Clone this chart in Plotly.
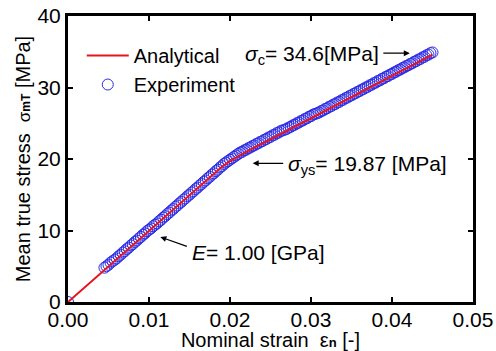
import plotly.graph_objects as go

# Analytical model curve (strain, MPa)
ana_strain = [0.0, 0.010, 0.018, 0.019, 0.020, 0.021, 0.022, 0.030, 0.040, 0.045]
ana_stress = [0.0, 10.0, 18.0, 18.9, 19.7, 20.4, 21.0, 25.7, 31.6, 34.6]

# Experimental points (strain, MPa)
exp_strain = [0.0,
    0.00450, 0.00475, 0.00500, 0.00525, 0.00550, 0.00575, 0.00600, 0.00625, 0.00650, 0.00675,
    0.00700, 0.00725, 0.00750, 0.00775, 0.00800, 0.00825, 0.00850, 0.00875, 0.00900, 0.00925,
    0.00950, 0.00975, 0.01000, 0.01025, 0.01050, 0.01075, 0.01100, 0.01125, 0.01150, 0.01175,
    0.01200, 0.01225, 0.01250, 0.01275, 0.01300, 0.01325, 0.01350, 0.01375, 0.01400, 0.01425,
    0.01450, 0.01475, 0.01500, 0.01525, 0.01550, 0.01575, 0.01600, 0.01625, 0.01650, 0.01675,
    0.01700, 0.01725, 0.01750, 0.01775, 0.01800, 0.01825, 0.01850, 0.01875, 0.01900, 0.01925,
    0.01950, 0.01975, 0.02000, 0.02025, 0.02050, 0.02075, 0.02100, 0.02125, 0.02150, 0.02175,
    0.02200, 0.02225, 0.02250, 0.02275, 0.02300, 0.02325, 0.02350, 0.02375, 0.02400, 0.02425,
    0.02450, 0.02475, 0.02500, 0.02525, 0.02550, 0.02575, 0.02600, 0.02625, 0.02650, 0.02675,
    0.02700, 0.02725, 0.02750, 0.02775, 0.02800, 0.02825, 0.02850, 0.02875, 0.02900, 0.02925,
    0.02950, 0.02975, 0.03000, 0.03025, 0.03050, 0.03075, 0.03100, 0.03125, 0.03150, 0.03175,
    0.03200, 0.03225, 0.03250, 0.03275, 0.03300, 0.03325, 0.03350, 0.03375, 0.03400, 0.03425,
    0.03450, 0.03475, 0.03500, 0.03525, 0.03550, 0.03575, 0.03600, 0.03625, 0.03650, 0.03675,
    0.03700, 0.03725, 0.03750, 0.03775, 0.03800, 0.03825, 0.03850, 0.03875, 0.03900, 0.03925,
    0.03950, 0.03975, 0.04000, 0.04025, 0.04050, 0.04075, 0.04100, 0.04125, 0.04150, 0.04175,
    0.04200, 0.04225, 0.04250, 0.04275, 0.04300, 0.04325, 0.04350, 0.04375, 0.04400, 0.04425,
    0.04450, 0.04475, 0.04500]
exp_stress = [0.0,
    4.8, 5.0, 5.2, 5.5, 5.7, 5.9, 6.1, 6.4, 6.6, 6.9,
    7.1, 7.4, 7.6, 7.9, 8.1, 8.4, 8.6, 8.9, 9.1, 9.4,
    9.6, 9.9, 10.1, 10.3, 10.6, 10.8, 11.0, 11.3, 11.5, 11.8,
    12.0, 12.3, 12.5, 12.8, 13.0, 13.3, 13.5, 13.8, 14.0, 14.3,
    14.5, 14.8, 15.0, 15.3, 15.5, 15.8, 16.0, 16.3, 16.5, 16.8,
    17.0, 17.3, 17.5, 17.8, 18.0, 18.3, 18.5, 18.8, 19.0, 19.3,
    19.5, 19.7, 19.9, 20.1, 20.3, 20.5, 20.7, 20.9, 21.0, 21.2,
    21.3, 21.5, 21.6, 21.8, 21.9, 22.1, 22.2, 22.4, 22.5, 22.7,
    22.8, 23.0, 23.1, 23.3, 23.4, 23.6, 23.7, 23.9, 24.0, 24.1,
    24.2, 24.4, 24.5, 24.7, 24.8, 25.0, 25.1, 25.3, 25.4, 25.6,
    25.7, 25.9, 26.0, 26.2, 26.3, 26.4, 26.5, 26.7, 26.8, 27.0,
    27.1, 27.3, 27.4, 27.6, 27.7, 27.9, 28.0, 28.2, 28.3, 28.5,
    28.6, 28.8, 28.9, 29.1, 29.2, 29.4, 29.5, 29.7, 29.8, 30.0,
    30.1, 30.3, 30.4, 30.6, 30.7, 30.9, 31.0, 31.2, 31.3, 31.5,
    31.6, 31.8, 31.9, 32.1, 32.2, 32.4, 32.5, 32.7, 32.8, 33.0,
    33.1, 33.3, 33.4, 33.6, 33.7, 33.9, 34.0, 34.2, 34.3, 34.5,
    34.6, 34.8, 34.9]

x_ticks = [0.00, 0.01, 0.02, 0.03, 0.04, 0.05]
x_tick_labels = ["0.00", "0.01", "0.02", "0.03", "0.04", "0.05"]
y_ticks = [0, 10, 20, 30, 40]
y_tick_labels = ["0", "10", "20", "30", "40"]

FONT = "Liberation Sans, Arial, sans-serif"

fig = go.Figure()
fig.add_trace(go.Scatter(
    x=exp_strain, y=exp_stress, mode="markers", name="Experiment",
    marker=dict(symbol="circle-open", size=11, color="#2a2ae6", line=dict(width=1, color="#2a2ae6")),
    legendrank=2,
))
fig.add_trace(go.Scatter(
    x=ana_strain, y=ana_stress, mode="lines", name="Analytical",
    line=dict(color="#e8141c", width=2), legendrank=1,
))

ann_font = dict(family=FONT, size=21, color="black")
# text labels
fig.add_annotation(x=0.0301, y=34.5, xref="x", yref="y", text="<i>σ</i><sub>c</sub>= 34.6[MPa]",
                   showarrow=False, font=ann_font)
fig.add_annotation(x=0.0370, y=19.2, xref="x", yref="y", text="<i>σ</i><sub>ys</sub>= 19.87 [MPa]",
                   showarrow=False, font=ann_font)
fig.add_annotation(x=0.0235, y=6.9, xref="x", yref="y", text="<i>E</i>= 1.00 [GPa]",
                   showarrow=False, font=ann_font)
# arrows
arrow_style = dict(showarrow=True, arrowhead=2, arrowsize=1, arrowwidth=1.2, arrowcolor="black",
                   text="", xref="x", yref="y")
fig.add_annotation(x=0.0422, y=34.8, ax=-28, ay=0, **arrow_style)
fig.add_annotation(x=0.0228, y=19.4, ax=32, ay=0, **arrow_style)
fig.add_annotation(x=0.0114, y=9.1, ax=28, ay=10, **arrow_style)

axis_common = dict(
    showline=True, linecolor="black", linewidth=3, mirror="ticks",
    ticks="inside", ticklen=5, tickwidth=2, tickcolor="black",
    showgrid=False, zeroline=False, automargin=False,
    tickfont=dict(family=FONT, size=21, color="black"),
)
fig.update_xaxes(range=[0, 0.05], tickvals=x_ticks, ticktext=x_tick_labels, ticklabelstandoff=-3,
                 title=dict(text="Nominal strain  ε<span style='font-size:13px'><b>n</b></span> [-]",
                            font=dict(family=FONT, size=20, color="black"), standoff=10),
                 **axis_common)
fig.update_yaxes(range=[0, 40], tickvals=y_ticks, ticktext=y_tick_labels,
                 title=dict(text="Mean true stress  <span style='font-size:17px'>σ</span><span style='font-size:12px'><b>mT</b></span> [MPa]",
                            font=dict(family=FONT, size=20, color="black"), standoff=2),
                 **axis_common)

fig.update_layout(
    width=496, height=351,
    margin=dict(l=68, r=23, t=16, b=49),
    plot_bgcolor="white", paper_bgcolor="white",
    font=dict(family=FONT, size=21, color="black"),
    legend=dict(x=0.034, y=0.93, xanchor="left", yanchor="top", bgcolor="rgba(0,0,0,0)",
                itemwidth=42,
                font=dict(family=FONT, size=20, color="black"), tracegroupgap=0),
    showlegend=True,
)

fig.write_html("out.html", config={"displayModeBar": False},
               post_script="document.body.style.margin='0';document.body.style.padding='0';")
